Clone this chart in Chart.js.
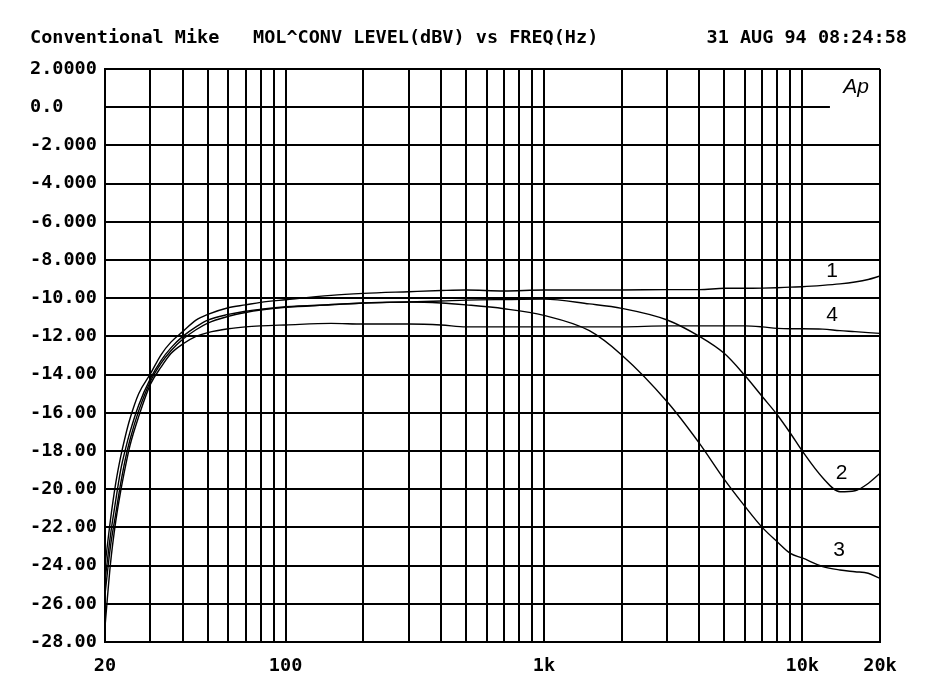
<!DOCTYPE html>
<html>
<head>
<meta charset="utf-8">
<title>MOL^CONV LEVEL vs FREQ</title>
<script src="https://cdn.jsdelivr.net/npm/chart.js@4/dist/chart.umd.min.js"></script>
<style>
	body { margin: 0; background: #fff; }
	#wrap { width: 941px; height: 700px; }
</style>
</head>
<body>
<div id="wrap"><canvas id="plot" width="941" height="700"></canvas></div>
<script>
// header texts
const headerLeft = "Conventional Mike";
const headerMid = "MOL^CONV LEVEL(dBV) vs FREQ(Hz)";
const headerRight = "31 AUG 94 08:24:58";

// x grid (Hz) and the ones that get a label
const freqGrid = [20, 30, 40, 50, 60, 70, 80, 90, 100, 200, 300, 400, 500, 600, 700, 800, 900,
	1000, 2000, 3000, 4000, 5000, 6000, 7000, 8000, 9000, 10000, 20000];
const freqTickText = { 20: "20", 100: "100", 1000: "1k", 10000: "10k", 20000: "20k" };

// y grid (dBV) and its labels
const levelTicks = [-28, -26, -24, -22, -20, -18, -16, -14, -12, -10, -8, -6, -4, -2, 0, 2];
const levelTickText = ["-28.00", "-26.00", "-24.00", "-22.00", "-20.00", "-18.00", "-16.00", "-14.00",
	"-12.00", "-10.00", "-8.000", "-6.000", "-4.000", "-2.000", "0.0", "2.0000"];

// measured frequencies (Hz)
const freqs = [20, 21, 22, 23, 24, 25, 27, 30, 33, 36, 40, 45, 50, 60, 70, 80, 100, 150, 200, 300, 400,
	500, 700, 1000, 1500, 2000, 3000, 4000, 5000, 6000, 7000, 8000, 9000, 10000, 12000, 14000, 16000, 18000, 20000];

// level (dBV) per curve
const curve1 = [-24.0, -21.6, -19.7, -18.3, -17.2, -16.3, -15.0, -13.95, -12.95, -12.3, -11.75, -11.15, -10.85,
	-10.5, -10.35, -10.22, -10.08, -9.85, -9.75, -9.66, -9.6, -9.57, -9.62, -9.57, -9.57, -9.57, -9.55, -9.55,
	-9.48, -9.48, -9.47, -9.45, -9.42, -9.4, -9.33, -9.25, -9.15, -9.02, -8.84];
const curve2 = [-24.8, -22.4, -20.6, -19.0, -17.9, -17.0, -15.6, -14.2, -13.25, -12.6, -12.0, -11.5, -11.15,
	-10.85, -10.68, -10.58, -10.45, -10.33, -10.25, -10.2, -10.15, -10.1, -10.07, -10.05, -10.3, -10.53, -11.14,
	-12.0, -12.9, -14.05, -15.15, -16.1, -17.07, -18.0, -19.4, -20.13, -20.08, -19.7, -19.17];
const curve3 = [-25.5, -23.0, -21.3, -19.7, -18.4, -17.4, -15.9, -14.35, -13.4, -12.75, -12.15, -11.65, -11.3,
	-10.95, -10.75, -10.62, -10.48, -10.35, -10.25, -10.2, -10.25, -10.35, -10.55, -10.9, -11.7, -12.97, -15.42,
	-17.6, -19.5, -20.9, -22.0, -22.75, -23.36, -23.6, -24.05, -24.23, -24.32, -24.4, -24.67];
const curve4 = [-27.2, -23.9, -21.7, -20.1, -18.8, -17.7, -16.2, -14.5, -13.6, -12.9, -12.4, -12.0, -11.8,
	-11.6, -11.5, -11.45, -11.4, -11.32, -11.35, -11.35, -11.4, -11.5, -11.5, -11.5, -11.5, -11.5, -11.45, -11.45,
	-11.45, -11.45, -11.5, -11.58, -11.6, -11.6, -11.62, -11.7, -11.75, -11.8, -11.84];

// curve number tags (Hz, dBV)
const curveTags = ["1", "4", "2", "3"];
const curveTagFreq = [13050, 13050, 14200, 13900];
const curveTagLevel = [-8.58, -10.88, -19.14, -23.18];

// the 0 dB line stops short of the Ap logo
const zeroLineEnd = 12800;

const monoFont = "bold 18.5px 'DejaVu Sans Mono'";

function toPoints(ys) {
	return freqs.map((f, k) => ({ x: f, y: ys[k] }));
}

function curveSet(ys) {
	return {
		data: toPoints(ys),
		borderColor: "#000",
		borderWidth: 1.4,
		pointRadius: 0,
		showLine: true,
		fill: false,
		cubicInterpolationMode: "monotone"
	};
}

// header, 0 dB line, tags and logo
const decorations = {
	id: "decorations",
	beforeDatasetsDraw(chart) {
		const ctx = chart.ctx, xs = chart.scales.x, ys = chart.scales.y;
		const y0 = Math.round(ys.getPixelForValue(0));
		ctx.save();
		ctx.strokeStyle = "#000";
		ctx.lineWidth = 2;
		ctx.beginPath();
		ctx.moveTo(chart.chartArea.left, y0);
		ctx.lineTo(xs.getPixelForValue(zeroLineEnd), y0);
		ctx.stroke();
		ctx.restore();
	},
	afterDraw(chart) {
		const ctx = chart.ctx, xs = chart.scales.x, ys = chart.scales.y;
		ctx.save();
		ctx.fillStyle = "#000";
		ctx.textBaseline = "middle";
		ctx.font = monoFont;
		ctx.textAlign = "left";
		ctx.fillText(headerLeft, 30, 38);
		ctx.fillText(headerMid, 253, 38);
		ctx.textAlign = "right";
		ctx.fillText(headerRight, 907, 38);

		ctx.textAlign = "center";
		ctx.font = "21px 'Liberation Sans'";
		curveTags.forEach((t, k) => {
			ctx.fillText(t, xs.getPixelForValue(curveTagFreq[k]), ys.getPixelForValue(curveTagLevel[k]));
		});
		ctx.font = "italic 21px 'Liberation Sans'";
		ctx.fillText("Ap", chart.chartArea.right - 24, chart.chartArea.top + 18);
		ctx.restore();
	}
};

const chart = new Chart(document.getElementById("plot"), {
	type: "scatter",
	data: {
		datasets: [curveSet(curve1), curveSet(curve2), curveSet(curve3), curveSet(curve4)]
	},
	options: {
		responsive: false,
		animation: false,
		layout: { padding: { left: 30, right: 61, top: 69, bottom: 18 } },
		plugins: {
			legend: { display: false },
			tooltip: { enabled: false }
		},
		scales: {
			x: {
				type: "logarithmic",
				min: 20,
				max: 20000,
				afterBuildTicks: s => { s.ticks = freqGrid.map(v => ({ value: v })); },
				afterFit: s => { s.height = 40; },
				grid: { color: "#000", lineWidth: 2, drawTicks: false },
				border: { color: "#000", width: 2 },
				ticks: {
					autoSkip: false,
					maxRotation: 0,
					padding: 13,
					color: "#000",
					font: { family: "DejaVu Sans Mono", size: 18.5, weight: "bold" },
					callback: v => freqTickText[v] || ""
				}
			},
			y: {
				min: -28,
				max: 2,
				afterBuildTicks: s => { s.ticks = levelTicks.map(v => ({ value: v })); },
				afterFit: s => { s.width = 75; },
				grid: {
					color: c => (c.tick && c.tick.value === 0 ? "rgba(0,0,0,0)" : "#000"),
					lineWidth: 2,
					drawTicks: false
				},
				border: { color: "#000", width: 2 },
				ticks: {
					crossAlign: "far",
					color: "#000",
					font: { family: "DejaVu Sans Mono", size: 18.5, weight: "bold" },
					callback: v => levelTickText[levelTicks.indexOf(v)]
				}
			}
		}
	},
	plugins: [decorations]
});
</script>
</body>
</html>
